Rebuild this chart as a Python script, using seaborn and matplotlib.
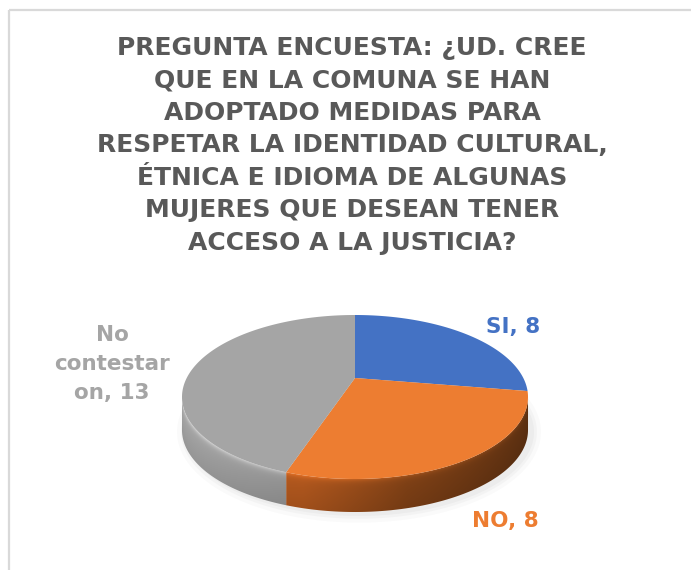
import numpy as np
import matplotlib
matplotlib.use("Agg")
import matplotlib.pyplot as plt
import seaborn as sns
from matplotlib.transforms import Transform
from matplotlib.path import Path
from matplotlib.patches import Polygon

# ---------------- data ----------------
categories = ["SI", "NO", "No contestaron"]
values = [8, 8, 13]
label_lines = [["SI, 8"], ["NO, 8"], ["No", "contestar", "on, 13"]]
title_lines = [
    "PREGUNTA ENCUESTA: ¿UD. CREE",
    "QUE EN LA COMUNA SE HAN",
    "ADOPTADO MEDIDAS PARA",
    "RESPETAR LA IDENTIDAD CULTURAL,",
    "ÉTNICA E IDIOMA DE ALGUNAS",
    "MUJERES QUE DESEAN TENER",
    "ACCESO A LA JUSTICIA?",
]
colors = ["#4472C4", "#ED7D31", "#A5A5A5"]

# ---------------- style ----------------
sns.set_theme(style="white")
plt.rcParams["font.family"] = ["DejaVu Sans"]

W, H = 691, 570
fig = plt.figure(figsize=(W / 100, H / 100), dpi=100)
fig.patch.set_facecolor("white")
ax = fig.add_axes([0, 0, 1, 1])
ax.patch.set_visible(False)

# perspective parameters (screen pixels)
CX, CY, A, B, K = 355.0, 378.0, 168.3, 77.6, 0.2317
DEPTH = 33.0


def proj(u, v):
    w = 1 + K * v
    return CX + A * u / w, CY - B * v / w


class Persp(Transform):
    input_dims = 2
    output_dims = 2
    is_separable = False
    has_inverse = False

    def transform_non_affine(self, values):
        values = np.asarray(values, float)
        x, y = proj(values[:, 0], values[:, 1])
        return np.column_stack([x, y])

    def transform_path_non_affine(self, path):
        pts = []
        for bez, code in path.iter_bezier():
            cp = np.asarray(bez.control_points)
            if len(cp) <= 2:
                pts.append(cp)
            else:
                pts.append(bez(np.linspace(0, 1, 30)))
        pts = np.vstack(pts)
        pts = np.vstack([pts, pts[:1]])
        return Path(self.transform_non_affine(pts))


wedges, _ = ax.pie(values, colors=colors, startangle=90, counterclock=False,
                   radius=1, center=(0, 0), wedgeprops=dict(linewidth=0))
for w in wedges:
    w.set_transform(Persp() + ax.transData)
    w.set_zorder(5)

ax.set_aspect("auto")
ax.set_xlim(0, W)
ax.set_ylim(H, 0)
ax.axis("off")

# ---------------- shadow ----------------
tt = np.radians(np.linspace(0, 360, 361))
sx, sy = proj(np.cos(tt), np.sin(tt))
for grow, alpha in [(9, 0.035), (5, 0.05), (2, 0.06)]:
    px = CX + (sx - CX) * (1 + grow / 175) + 4
    py = CY + 20 + (sy - CY - 20) * (1 + grow / 85) + DEPTH + 2
    ax.add_patch(Polygon(np.column_stack([px, py]), closed=True,
                         facecolor="#7f7f7f", edgecolor="none", alpha=alpha, zorder=1))

# ---------------- side (rim) ----------------
lo = 180 + np.degrees(np.arcsin(K))
hi = 360 - np.degrees(np.arcsin(K))
xl_all, _ = proj(-np.sqrt(1 - K * K), -K)
xr_all, _ = proj(np.sqrt(1 - K * K), -K)

side_ramps = {
    "#ED7D31": [(0.0, (190, 95, 32)), (0.35, (178, 88, 30)), (0.65, (128, 65, 22)), (1.0, (96, 50, 18))],
    "#A5A5A5": [(0.0, (168, 168, 168)), (0.35, (148, 148, 148)), (1.0, (122, 122, 122))],
    "#4472C4": [(0.0, (50, 85, 150)), (1.0, (30, 55, 100))],
}

for w, col in zip(wedges, colors):
    t1 = w.theta1 % 360
    t2 = t1 + (w.theta2 - w.theta1)
    for off in (-360, 0, 360):
        a = max(t1 + off, lo)
        b = min(t2 + off, hi)
        if b <= a:
            continue
        ts = np.radians(np.linspace(a, b, 200))
        x, y = proj(np.cos(ts), np.sin(ts))
        poly = np.vstack([np.column_stack([x, y]),
                          np.column_stack([x, y + DEPTH])[::-1]])
        clip = Polygon(poly, closed=True, facecolor="none", edgecolor="none",
                       transform=ax.transData)
        ax.add_patch(clip)
        x0, x1 = np.floor(x.min()) - 1, np.ceil(x.max()) + 1
        y0, y1 = np.floor(y.min()) - 1, np.ceil(y.max() + DEPTH) + 1
        gx = np.arange(x0, x1 + 0.5, 0.5)
        gy = np.arange(y0, y1 + 0.5, 0.5)
        order = np.argsort(x)
        ytop = np.interp(gx, x[order], y[order])
        xfrac = (gx - xl_all) / (xr_all - xl_all)
        ramp = side_ramps[col]
        stops = [r[0] for r in ramp]
        rgb = np.stack([np.interp(xfrac, stops, [r[1][c] for r in ramp]) for c in range(3)], axis=-1) / 255
        d = gy[:, None] - ytop[None, :]
        fac = 1 + 0.30 * np.exp(-np.clip(d, 0, None) / 2.5) - 0.10 * np.clip(d / DEPTH, 0, 1)
        img = np.clip(rgb[None, :, :] * fac[:, :, None], 0, 1)
        im = ax.imshow(img, extent=(x0, x1, y1, y0), origin="upper",
                       aspect="auto", zorder=3, interpolation="bilinear")
        im.set_clip_path(clip)

ax.set_xlim(0, W)
ax.set_ylim(H, 0)

# ---------------- frame (top and left edges of chart area) ----------------
ax.plot([9.5, W + 5], [9.5, 9.5], color="#D9D9D9", lw=1.6, zorder=0,
        solid_capstyle="butt", clip_on=False)
ax.plot([9.5, 9.5], [9.5, H + 5], color="#D9D9D9", lw=1.6, zorder=0,
        solid_capstyle="butt", clip_on=False)

# ---------------- texts ----------------
for i, line in enumerate(title_lines):
    ax.text(352, 48 + i * 32.5, line, ha="center", va="center",
            fontsize=18, fontweight="bold", color="#595959", zorder=10)

label_pos = [(513, [327]), (505, [521]), (112, [335, 364.5, 393])]
for lines, (lx, lys), col in zip(label_lines, label_pos, colors):
    for line, ly in zip(lines, lys):
        ax.text(lx, ly, line, ha="center", va="center", fontsize=15.5,
                fontweight="bold", color=col, zorder=10)

fig.savefig("out.png", dpi=100, facecolor="white")
